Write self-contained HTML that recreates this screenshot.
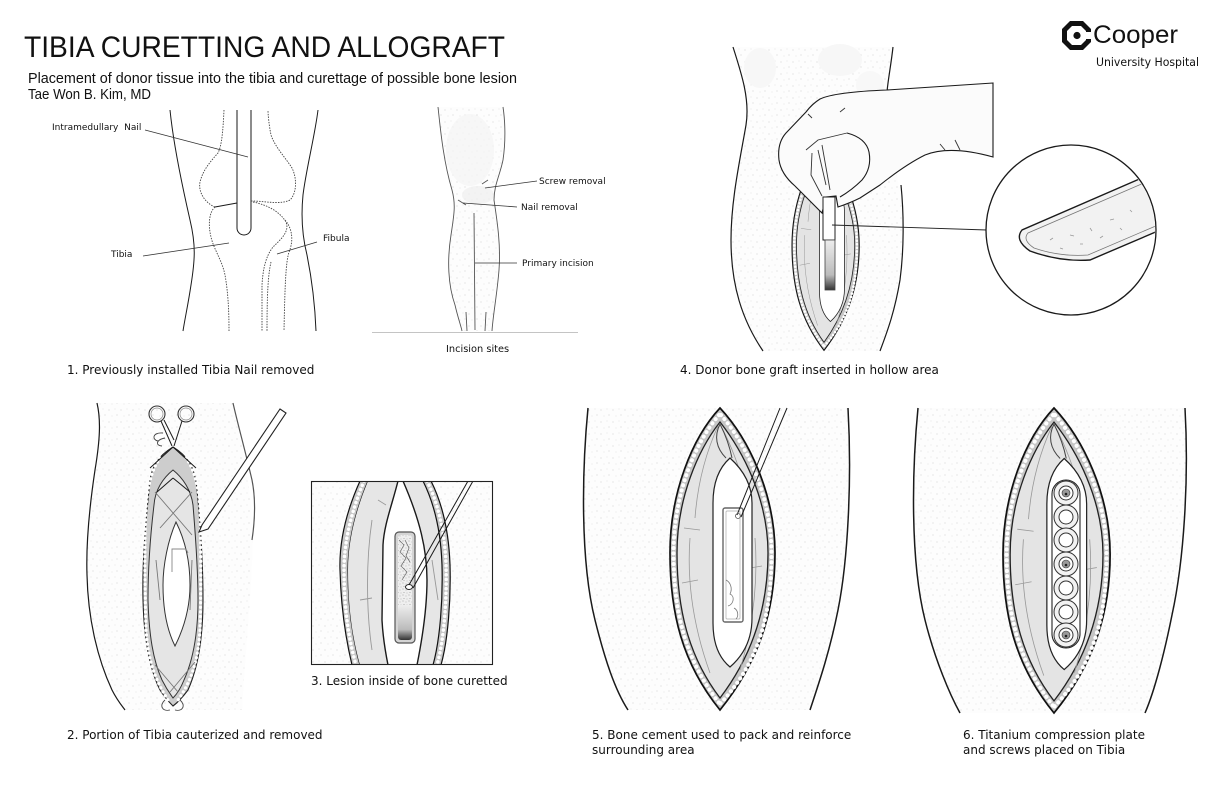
<!DOCTYPE html>
<html><head><meta charset="utf-8">
<style>
html,body{margin:0;padding:0;background:#fff;}
svg{display:block;}
.c{font-family:"DejaVu Sans",sans-serif;font-size:12px;fill:#111;}
.l{font-family:"DejaVu Sans",sans-serif;font-size:9px;fill:#111;white-space:pre;}
.k{fill:none;stroke:#1a1a1a;stroke-width:1.2;}
.g{fill:none;stroke:#555;stroke-width:0.9;}
.d{fill:none;stroke:#444;stroke-width:0.9;stroke-dasharray:1.5 1.2;}
</style></head><body>
<svg width="1224" height="792" viewBox="0 0 1224 792" xmlns="http://www.w3.org/2000/svg">
<defs>
<pattern id="st" width="12" height="12" patternUnits="userSpaceOnUse">
<rect width="12" height="12" fill="#fdfdfd"/>
<circle cx="1" cy="2" r="0.45" fill="#bbb"/><circle cx="7" cy="1" r="0.4" fill="#c8c8c8"/>
<circle cx="9" cy="7" r="0.45" fill="#bbb"/><circle cx="4" cy="8" r="0.4" fill="#c8c8c8"/>
</pattern>
<pattern id="st2" width="6" height="6" patternUnits="userSpaceOnUse">
<rect width="6" height="6" fill="#efefef"/>
<circle cx="1" cy="1" r="0.55" fill="#999"/><circle cx="4" cy="2" r="0.5" fill="#aaa"/>
<circle cx="2" cy="4.5" r="0.5" fill="#999"/><circle cx="5" cy="5" r="0.45" fill="#aaa"/>
</pattern>
<linearGradient id="dk" x1="0" y1="0" x2="0" y2="1">
<stop offset="0" stop-color="#eee"/><stop offset="0.7" stop-color="#bbb"/><stop offset="1" stop-color="#333"/>
</linearGradient>
<g id="inc">
<path d="M0,0 C-28,30 -50,85 -50,145 C-50,205 -38,255 0,302 C38,255 55,205 55,145 C55,85 28,30 0,0Z" fill="#c6c6c6" stroke="#111" stroke-width="1.7"/>
<path d="M-1,7 C-26,36 -46.5,88 -46.5,145 C-46.5,203 -35,252 0,296" fill="none" stroke="#fff" stroke-width="4" stroke-dasharray="0.1 5.2" stroke-linecap="round"/>
<path d="M1,7 C26,36 51.5,88 51.5,145 C51.5,203 41,252 0,296" fill="none" stroke="#fff" stroke-width="4" stroke-dasharray="0.1 5.2" stroke-linecap="round"/>
<path d="M0,14 C-22,42 -43,90 -43,145 C-43,200 -32,248 0,290 C32,248 48,200 48,145 C48,90 22,42 0,14Z" fill="#e4e4e4" stroke="#222" stroke-width="1.3"/>
<path d="M-2,18 C-12,40 -22,70 -25,110 M2,20 C10,35 20,60 28,90 M-30,130 C-33,170 -28,215 -10,265 M35,130 C38,170 34,215 20,262 M-36,120 L-20,122 M-38,175 L-22,172 M30,160 L42,158" fill="none" stroke="#999" stroke-width="0.8"/>
<path d="M0,16 C-6,28 -4,40 6,50 M0,16 C6,28 10,40 12,50" fill="none" stroke="#444" stroke-width="1"/>
<path d="M10,50 Q-7,65 -7,95 L-7,215 Q-7,245 10,259 Q32,240 32,210 L32,95 Q32,70 10,50 Z" fill="#fff" stroke="#222" stroke-width="1.2"/>
</g>
</defs>

<!-- Title -->
<text x="24" y="57" font-family="Liberation Sans, sans-serif" font-size="30" fill="#111" textLength="481" lengthAdjust="spacingAndGlyphs">TIBIA CURETTING AND ALLOGRAFT</text>
<text x="28" y="83" font-family="Liberation Sans, sans-serif" font-size="14.5" fill="#111" textLength="489" lengthAdjust="spacingAndGlyphs">Placement of donor tissue into the tibia and curettage of possible bone lesion</text>
<text x="28" y="99" font-family="Liberation Sans, sans-serif" font-size="14.5" fill="#111" textLength="123" lengthAdjust="spacingAndGlyphs">Tae Won B. Kim, MD</text>

<!-- Logo -->
<polygon points="1070,21 1083,21 1091,29 1091,42 1083,50 1070,50 1062,42 1062,29" fill="#111"/>
<polygon points="1072,26 1081,26 1086,31 1086,40 1081,45 1072,45 1067,40 1067,31" fill="#fff"/>
<rect x="1082" y="32" width="10" height="7" fill="#fff"/>
<circle cx="1077" cy="35.5" r="3.6" fill="#111"/>
<text x="1093" y="43" font-family="Liberation Sans, sans-serif" font-size="25" fill="#111" textLength="85" lengthAdjust="spacingAndGlyphs">Cooper</text>
<text x="1096" y="66" font-family="DejaVu Sans, sans-serif" font-size="11.5" fill="#111" textLength="103" lengthAdjust="spacingAndGlyphs">University Hospital</text>

<!-- Panel 1: knee diagram -->
<path class="k" style="stroke-width:1" d="M170,110 C173,140 182,185 190,220 C196,245 195,260 191,285 C188,305 185,318 183,331"/>
<path class="k" style="stroke-width:1" d="M318,110 C315,135 306,170 303,195 C301,215 302,235 307,255 C312,280 315,305 316,331"/>
<path class="k" style="stroke-width:1" d="M237,110 L237,228 A7,7 0 0 0 251,228 L251,110"/>
<path class="d" d="M224,110 C223,130 222,145 218,153 C210,162 203,170 200,182 C198,192 205,203 215,207"/>
<path class="k" style="stroke-width:0.9" d="M215,207 L237,203"/>
<path class="d" d="M251,201 C265,201 280,205 290,200 C297,193 297,178 292,168 C285,157 275,147 271,135 C269,125 268,115 268,110"/>
<path class="d" d="M215,207 C209,212 208,225 211,237 C214,250 222,260 225,275 C228,292 229,310 229,331"/>
<path class="d" d="M253,202 C268,205 280,212 286,222 C290,232 280,240 273,247 C266,256 263,268 262,285 L262,331"/>
<path class="d" d="M285,220 C292,228 294,240 289,252 C286,262 285,280 284,331"/>
<path class="d" d="M271,262 C268,275 267,295 267,331"/>
<path class="g" style="stroke:#333;stroke-width:0.8" d="M145,130 L248,157 M143,256 L229,243 M317,242 L277,254"/>
<text class="l" x="52" y="130">Intramedullary  Nail</text>
<text class="l" x="111" y="257">Tibia</text>
<text class="l" x="323" y="241">Fibula</text>

<!-- Panel 1b: incision sites leg -->
<path d="M438,107 C440,125 443,160 452,190 C456,205 454,215 451,235 C447,260 448,285 455,305 C458,318 461,326 462,331 L492,331 C493,315 497,295 499,270 C501,245 497,220 494,200 C494,185 500,175 503,160 C506,140 505,120 503,107 Z" fill="url(#st)"/>
<ellipse cx="470" cy="150" rx="24" ry="36" fill="#f3f3f3" opacity="0.7"/>
<ellipse cx="478" cy="195" rx="16" ry="9" fill="#eeeeee" opacity="0.7"/>
<path class="g" d="M438,107 C440,125 443,160 452,190 C456,205 454,215 451,235 C447,260 448,285 455,305 C458,318 461,326 462,331"/>
<path class="g" d="M503,107 C505,120 506,140 503,160 C500,175 494,185 494,200 C497,220 501,245 499,270 C497,295 493,315 492,331"/>
<path class="g" d="M474,213 L475,330 M482,184 L488,180 M458,200 L466,205 M466,312 L467,331 M486,312 L485,331"/>
<path class="g" style="stroke:#333;stroke-width:0.8" d="M485,188 L537,181 M463,203 L517,207 M475,263 L517,263"/>
<path d="M372,332.5 L578,332.5" stroke="#c4c4c4" stroke-width="1"/>
<text class="l" x="539" y="184">Screw removal</text>
<text class="l" x="521" y="210">Nail removal</text>
<text class="l" x="522" y="266">Primary incision</text>
<text class="l" x="446" y="352" style="font-size:9.8px">Incision sites</text>
<text class="c" x="67" y="374">1. Previously installed Tibia Nail removed</text>

<!-- Panel 4 -->
<path d="M733,47 C742,75 750,100 746,125 C740,160 731,200 731,240 C731,285 742,320 763,351 L880,351 C893,320 903,280 903,230 C903,200 898,180 893,160 L886,95 L893,47 Z" fill="url(#st)"/>
<ellipse cx="760" cy="68" rx="16" ry="20" fill="#f7f7f7"/>
<ellipse cx="840" cy="60" rx="22" ry="16" fill="#f7f7f7"/>
<ellipse cx="870" cy="85" rx="14" ry="14" fill="#f8f8f8"/>
<path class="k" d="M733,47 C742,75 750,100 746,125 C740,160 731,200 731,240 C731,285 742,320 763,351"/>
<path class="k" d="M893,47 C891,65 888,80 887,92"/>
<path class="k" d="M901,185 C904,215 904,250 900,280 C895,310 888,330 880,351"/>
<use href="#inc" transform="translate(824,148) scale(0.64,0.67)"/>
<path d="M993,83 L887,90 Q835,92 820,99 Q812,104 806,112 L786,133 Q777,143 779,160 Q781,174 795,186 L822,213 L826,197 L836,196 L838,207 Q850,203 860,198 L880,185 Q905,165 925,155 Q950,145 993,157 Z" fill="#fbfbfb" stroke="#1a1a1a" stroke-width="1.1"/>
<path class="k" style="stroke-width:1.1" d="M847,133 Q866,138 869,152 Q872,168 862,180 Q852,190 840,197"/>
<path class="g" style="stroke:#333" d="M806,150 L818,140 L847,133 M812,153 L811,175 L822,196 M818,150 L826,185 M822,145 L830,190 M808,114 L812,118 M840,112 L845,108 M960,150 L955,140 M945,150 L940,144"/>
<rect x="823" y="197" width="12" height="43" fill="#fff" stroke="#222" stroke-width="1"/>
<rect x="825" y="240" width="10" height="50" fill="url(#dk)" stroke="#444" stroke-width="0.8"/>
<path d="M832,225 L987,230" stroke="#222" stroke-width="0.9"/>
<circle cx="1071" cy="230" r="85" fill="#fff" stroke="#1a1a1a" stroke-width="1.3"/>
<clipPath id="cc"><circle cx="1071" cy="230" r="84"/></clipPath>
<g clip-path="url(#cc)">
<path d="M1160,170 L1022,230 Q1014,240 1030,251 Q1060,262 1090,260 L1165,228 Z" fill="#f2f2f2" stroke="#1a1a1a" stroke-width="1.4"/>
<path d="M1160,176 L1028,233 Q1022,240 1034,248 Q1060,257 1088,255 L1165,222" fill="none" stroke="#777" stroke-width="0.8"/>
<path d="M1050,240 l3,-2 M1070,235 l4,1 M1090,228 l2,3 M1110,220 l4,-1 M1130,210 l2,2 M1060,248 l3,1 M1100,238 l3,-2 M1120,228 l2,2 M1080,244 l3,0" stroke="#999" stroke-width="0.8"/>
</g>
<text class="c" x="680" y="374">4. Donor bone graft inserted in hollow area</text>

<!-- Panel 2 -->
<path d="M97,403 C101,420 100,440 95,470 C89,510 86,545 87,575 C88,620 98,660 112,690 C117,700 122,706 125,710 L242,710 C246,640 255,560 252,520 C250,480 240,440 233,403 Z" fill="url(#st)"/>
<path class="k" d="M97,403 C101,420 100,440 95,470 C89,510 86,545 87,575 C88,620 98,660 112,690 C117,700 122,706 125,710"/>
<path class="k" style="stroke:#555" d="M233,403 C238,425 245,450 252,480 C256,500 255,520 252,540"/>
<path d="M173,447 C160,455 150,465 149,490 C146,520 142,560 143,600 C144,640 150,670 160,690 C165,698 170,703 173,706 C177,703 182,698 188,690 C197,670 203,640 203,600 C203,560 200,520 197,490 C195,465 186,455 173,447 Z" fill="#cdcdcd" stroke="#222" stroke-width="1.1"/>
<path d="M160,458 C151,470 147,490 146,510 C144,540 145,600 146,630 C148,660 155,680 168,700 M186,458 C195,470 199,490 200,510 C201,540 201,600 200,630 C198,660 192,680 178,700" fill="none" stroke="#fff" stroke-width="3.2" stroke-dasharray="0.1 4.5" stroke-linecap="round"/>
<path d="M173,470 C163,478 155,490 154,505 C151,530 148,565 148,600 C149,635 153,660 162,680 C167,690 171,695 173,698 C176,695 180,690 184,680 C193,660 198,635 198,600 C198,565 195,530 193,505 C191,490 183,478 173,470 Z" fill="#e5e5e5" stroke="#333" stroke-width="1"/>
<path class="g" style="stroke:#777" d="M155,492 L192,535 M192,492 L160,528 M155,665 L178,692 M195,662 L170,692 M156,560 L160,600 M192,560 L190,610"/>
<path d="M176,522 C168,540 163,565 163,585 C163,610 167,630 175,646 C183,630 190,610 190,585 C190,560 185,540 176,522 Z" fill="#fff" stroke="#333" stroke-width="1"/>
<path class="g" style="stroke:#888" d="M172,572 L172,549 L186,549 L188,553"/>
<path class="k" style="stroke-width:1" d="M173,447 L150,468 M173,447 L196,468 M173,478 L157,492 M173,478 L190,492"/>
<circle cx="157" cy="414" r="8" fill="none" stroke="#333" stroke-width="1.1"/>
<circle cx="157" cy="414" r="6" fill="none" stroke="#888" stroke-width="0.7"/>
<circle cx="186" cy="414" r="8" fill="none" stroke="#333" stroke-width="1.1"/>
<circle cx="186" cy="414" r="6" fill="none" stroke="#888" stroke-width="0.7"/>
<path class="k" style="stroke-width:1" d="M161,421 L172,446 M182,421 L174,446 M164,420 L174,440"/>
<path class="g" style="stroke:#444" d="M163,433 C152,432 152,440 158,441 M165,438 C155,440 156,446 162,446 M165,700 C159,705 162,712 170,710 M180,700 C186,705 183,712 175,710"/>
<path d="M280,409 L286,413 L208,529 L199,532 L202,525 Z" fill="#fff" stroke="#222" stroke-width="1.1"/>
<text class="c" x="67" y="739">2. Portion of Tibia cauterized and removed</text>

<!-- Panel 3 -->
<clipPath id="bx"><rect x="311" y="481" width="182" height="184"/></clipPath>
<g clip-path="url(#bx)">
<rect x="311" y="481" width="182" height="184" fill="url(#st)"/>
<path d="M360,481 L368,481 C356,510 348,540 348,570 C348,610 353,640 360,665 L352,665 C346,640 341,610 340,570 C339,540 347,510 360,481 Z" fill="#c8c8c8" stroke="#111" stroke-width="1.2"/>
<path d="M364,481 C352,510 344,540 344,570 C344,610 349,640 356,665" fill="none" stroke="#fff" stroke-width="3.5" stroke-dasharray="0.1 4.5" stroke-linecap="round"/>
<path d="M368,481 L398,481 C392,505 384,525 383,545 L382,620 C383,640 386,655 388,665 L360,665 C353,640 348,610 348,570 C348,540 356,510 368,481 Z" fill="#e6e6e6"/>
<path d="M403,481 C420,520 427,550 427,580 C427,610 422,640 417,665 L433,665 C440,640 443,600 442,565 C441,535 435,505 423,481 Z" fill="#e6e6e6"/>
<path d="M423,481 L431,481 C443,505 449,535 450,565 C451,600 448,640 441,665 L433,665 C440,640 443,600 442,565 C441,535 435,505 423,481 Z" fill="#c8c8c8" stroke="#111" stroke-width="1.2"/>
<path d="M427,481 C439,505 445,535 446,565 C447,600 444,640 437,665" fill="none" stroke="#fff" stroke-width="3.5" stroke-dasharray="0.1 4.5" stroke-linecap="round"/>
<path class="g" style="stroke:#999" d="M372,520 C366,560 366,610 372,650 M378,500 L386,505 M360,600 L372,598 M432,560 L438,600"/>
<path d="M398,481 C392,505 384,525 383,545 L382,620 C383,640 386,655 388,665 L417,665 C422,640 427,610 427,580 C427,550 420,520 403,481 Z" fill="#fff"/>
<path class="k" style="stroke-width:1.4" d="M398,481 C392,505 384,525 383,545 L382,620 C383,640 386,655 388,665 M403,481 C420,520 427,550 427,580 C427,610 422,640 417,665"/>
<rect x="395" y="532" width="20" height="111" rx="4" fill="#d4d4d4" stroke="#555" stroke-width="1.2"/>
<rect x="398" y="535" width="14" height="105" rx="3" fill="url(#st2)"/>
<rect x="398" y="605" width="14" height="35" rx="3" fill="url(#dk)"/>
<path class="g" style="stroke:#666;stroke-width:0.7" d="M399,540 L404,545 L400,552 L406,558 L401,566 L407,572 L402,580 M405,540 L409,548 L406,556 L410,562"/>
<path class="k" style="stroke-width:1" d="M468,481 L409,585 M473,481 L413,588"/>
<ellipse cx="409" cy="587" rx="3.5" ry="2.5" fill="#fff" stroke="#222" stroke-width="1"/>
</g>
<rect x="311.5" y="481.5" width="181" height="183" fill="none" stroke="#222" stroke-width="1.1"/>
<text class="c" x="311" y="685">3. Lesion inside of bone curetted</text>

<!-- Panel 5 -->
<path d="M588,408 C582,470 580,560 595,620 C605,660 615,690 628,710 L810,710 C820,680 830,650 838,610 C848,560 852,480 848,408 Z" fill="url(#st)"/>
<path class="k" style="stroke-width:1.5" d="M588,408 C582,470 580,560 595,620 C605,660 615,690 628,710"/>
<path class="k" style="stroke-width:1.5" d="M848,408 C852,480 848,560 838,610 C830,650 820,680 810,710"/>
<use href="#inc" transform="translate(720,408)"/>
<rect x="723" y="508" width="20" height="114" rx="2" fill="#fff" stroke="#666" stroke-width="1.4"/>
<rect x="726" y="511" width="14" height="108" rx="1" fill="#fff" stroke="#aaa" stroke-width="0.7"/>
<path class="g" style="stroke:#777;stroke-width:0.8" d="M726,580 C730,582 733,588 730,594 C735,596 734,604 728,606 M734,608 C738,610 739,616 736,619"/>
<path class="k" style="stroke-width:1" d="M780,408 L737,515 M787,408 L741,517"/>
<circle cx="738" cy="516" r="2.5" fill="none" stroke="#555" stroke-width="0.8"/>
<text class="c" x="592" y="739">5. Bone cement used to pack and reinforce</text>
<text class="c" x="592" y="754">surrounding area</text>

<!-- Panel 6 -->
<path d="M918,408 C912,470 910,560 925,620 C935,660 950,695 960,713 L1145,713 C1155,690 1165,650 1172,615 C1184,560 1189,480 1185,408 Z" fill="url(#st)"/>
<path class="k" style="stroke-width:1.5" d="M918,408 C912,470 910,560 925,620 C935,660 950,695 960,713"/>
<path class="k" style="stroke-width:1.5" d="M1185,408 C1189,480 1184,560 1172,615 C1165,650 1155,690 1145,713"/>
<use href="#inc" transform="translate(1054,408) scale(1.02,1.01)"/>
<rect x="1052" y="480" width="28" height="168" rx="14" fill="#fff" stroke="#222" stroke-width="1.1"/>
<g fill="#f2f2f2" stroke="#333" stroke-width="1">
<circle cx="1066" cy="493" r="12"/><circle cx="1066" cy="517" r="12"/><circle cx="1066" cy="540" r="12"/>
<circle cx="1066" cy="564" r="12"/><circle cx="1066" cy="588" r="12"/><circle cx="1066" cy="612" r="12"/>
<circle cx="1066" cy="635" r="12"/>
</g>
<g fill="#fff" stroke="#333" stroke-width="1">
<circle cx="1066" cy="493" r="7"/><circle cx="1066" cy="517" r="7"/><circle cx="1066" cy="540" r="7"/>
<circle cx="1066" cy="564" r="7"/><circle cx="1066" cy="588" r="7"/><circle cx="1066" cy="612" r="7"/>
<circle cx="1066" cy="635" r="7"/>
</g>
<g fill="#999" stroke="#333" stroke-width="0.6">
<circle cx="1066" cy="493" r="4"/><circle cx="1066" cy="564" r="4"/><circle cx="1066" cy="635" r="4"/>
</g>
<g fill="#222"><circle cx="1066" cy="494" r="1.3"/><circle cx="1066" cy="565" r="1.3"/><circle cx="1066" cy="636" r="1.3"/></g>
<text class="c" x="963" y="739">6. Titanium compression plate</text>
<text class="c" x="963" y="754">and screws placed on Tibia</text>
</svg>
</body></html>
